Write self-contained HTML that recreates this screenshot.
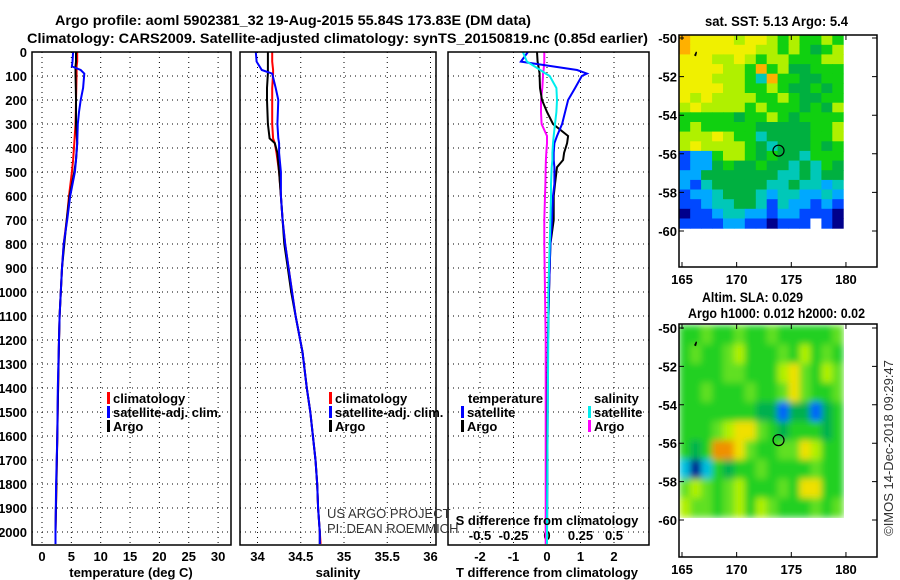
<!DOCTYPE html>
<html><head><meta charset="utf-8"><style>
html,body{margin:0;padding:0;background:#fff;}
svg{display:block;font-family:"Liberation Sans",sans-serif;}
.t{font-size:14px;font-weight:bold;fill:#000;}
.tk{font-size:13px;font-weight:bold;fill:#000;}
.thin{font-size:13px;fill:#333;}
</style></head><body>
<svg id="fig" width="900" height="580" viewBox="0 0 900 580" xmlns="http://www.w3.org/2000/svg">
<defs>
<clipPath id="clipTop"><rect x="679" y="35" width="167" height="196"/></clipPath>
<clipPath id="clipBot"><rect x="679" y="324" width="167" height="196"/></clipPath>
<filter id="blur" x="0" y="0" width="100%" height="100%"><feGaussianBlur stdDeviation="3.5" edgeMode="duplicate"/></filter>
</defs>
<text class="t" x="55" y="25" textLength="476" lengthAdjust="spacingAndGlyphs">Argo profile: aoml 5902381_32 19-Aug-2015 55.84S 173.83E (DM data)</text>
<text class="t" x="27" y="43" textLength="621" lengthAdjust="spacingAndGlyphs">Climatology: CARS2009. Satellite-adjusted climatology: synTS_20150819.nc (0.85d earlier)</text>
<text class="t" x="705" y="26" textLength="143" lengthAdjust="spacingAndGlyphs">sat. SST: 5.13 Argo: 5.4</text>
<text class="t" x="702" y="302" textLength="101" lengthAdjust="spacingAndGlyphs">Altim. SLA: 0.029</text>
<text class="t" x="688" y="318" textLength="177" lengthAdjust="spacingAndGlyphs">Argo h1000: 0.012 h2000: 0.02</text>
<g id="g"></g>
</svg>
<script>
// ---- profile data ----
const depthTicks=[0,100,200,300,400,500,600,700,800,900,1000,1100,1200,1300,1400,1500,1600,1700,1800,1900,2000];
const tempTicks=[0,5,10,15,20,25,30];
const salTicks=[34,34.5,35,35.5,36];
const salTickLabels=["34","34.5","35","35.5","36"];
const dTTicks=[-2,-1,0,1,2];
const dSTicks=[-0.5,-0.25,0,0.25,0.5];
const dSTickLabels=["-0.5","-0.25","0","0.25","0.5"];

const tDepth=[0,40,60,75,90,150,200,250,300,380,450,500,600,700,800,900,1000,1100,1200,1400,1600,1800,2000,2050];
const tClim=[6.0,6.0,5.9,5.9,5.9,5.85,5.8,5.75,5.7,5.5,5.3,5.1,4.6,4.2,3.7,3.4,3.2,3.0,2.9,2.75,2.6,2.45,2.3,2.3];
const tSat=[5.3,5.2,5.1,6.6,7.2,7.0,6.6,6.3,6.1,6.0,5.8,5.6,4.8,4.3,3.7,3.4,3.2,3.0,2.9,2.7,2.6,2.4,2.3,2.3];
const tArgo=[5.8,5.8,5.7,5.7,5.7,5.75,5.8,5.8,5.8,6.0,5.8,5.5,4.7,4.2,3.8,3.4,3.2,3.0,2.9,2.75,2.6,2.45,2.3,2.3];

const sDepth=[0,40,75,90,150,200,300,360,380,420,500,600,700,800,900,1000,1100,1250,1400,1500,1600,1700,1800,1900,2000,2050];
const sClim=[34.17,34.17,34.18,34.18,34.17,34.17,34.17,34.18,34.20,34.22,34.25,34.27,34.29,34.32,34.36,34.40,34.44,34.52,34.57,34.61,34.64,34.67,34.69,34.70,34.72,34.73];
const sSat=[33.98,33.99,34.05,34.17,34.21,34.24,34.23,34.24,34.25,34.25,34.27,34.27,34.29,34.32,34.36,34.40,34.44,34.52,34.57,34.61,34.64,34.67,34.69,34.70,34.72,34.72];
const sArgo=[34.12,34.12,34.12,34.12,34.11,34.11,34.12,34.14,34.20,34.23,34.25,34.27,34.29,34.31,34.35,34.39,34.44,34.52,34.57,34.61,34.64,34.67,34.69,34.70,34.72,34.72];

const dDepth=[0,40,75,90,100,150,200,250,300,350,380,420,450,480,550,600,700,800,1000,1200,1500,2000,2050];
const dTSat=[-0.57,-0.78,0.9,1.19,1.04,0.84,0.63,0.54,0.45,0.3,0.22,0.2,0.2,0.22,0.22,0.18,0.15,0.1,0.06,0.03,0.02,0.0,0.0];
const dTArgo=[-0.3,-0.28,-0.24,-0.22,-0.22,-0.21,-0.15,0.0,0.18,0.63,0.6,0.51,0.48,0.3,0.24,0.2,0.2,0.1,0.06,0.03,0.01,0.0,0.0];
const dSSat=[-0.18,-0.15,-0.05,-0.01,0.02,0.07,0.075,0.07,0.06,0.05,0.045,0.04,0.04,0.035,0.03,0.03,0.025,0.02,0.01,0.01,0.005,0.0,0.0];
const dSArgo=[-0.02,-0.02,-0.025,-0.03,-0.03,-0.035,-0.045,-0.045,-0.04,0.0,0.0,-0.005,-0.008,-0.01,-0.012,-0.015,-0.02,-0.02,-0.015,-0.01,-0.01,-0.01,-0.01];

// ---- map data (color class indices) ----
const sstGrid=[
[8,7,7,7,7,6,7,7,6,5,6,5,5,6,5],
[8,7,7,7,7,7,7,6,6,5,6,5,4,5,6],
[7,7,7,6,6,7,6,5,6,6,5,5,5,6,6],
[7,7,7,7,6,6,5,8,5,6,4,4,5,5,5],
[7,7,7,6,6,6,5,3,8,5,5,4,4,5,5],
[7,7,7,7,6,6,5,5,6,5,4,4,5,4,5],
[7,6,7,6,6,6,6,5,5,6,5,4,4,5,5],
[6,7,6,6,6,6,5,6,5,5,5,4,5,4,6],
[5,5,5,5,5,4,5,5,6,5,4,5,5,5,5],
[5,6,5,5,5,5,5,4,4,4,4,4,5,5,6],
[6,6,6,7,6,5,5,3,4,4,4,4,5,5,6],
[6,7,6,6,6,6,5,4,3,4,4,4,5,4,5],
[1,2,2,5,6,6,5,4,5,4,4,3,5,5,5],
[1,2,2,4,5,4,4,5,4,4,3,4,3,5,4],
[2,2,4,4,4,4,4,4,4,3,3,4,3,4,4],
[2,1,3,4,4,4,4,4,3,3,4,3,3,2,3],
[1,2,2,3,4,4,4,3,2,3,3,2,2,3,2],
[1,1,2,3,3,4,4,3,1,3,2,2,1,2,1],
[0,1,1,2,3,3,2,2,1,2,2,1,1,1,0],
[1,1,1,1,2,2,1,1,0,1,1,1,-1,1,0]];
const sstColors=["#00008c","#0048ff","#00a8ff","#00c8b8","#00b040","#10d010","#b0f000","#f0f000","#ffb000"];
const slaGrid=[
[4,4,5,4,4,5,4,4,5,4,4,4,4,4,5],
[4,5,4,4,5,6,4,4,4,5,4,6,4,5,4],
[4,4,4,4,5,5,4,4,4,6,7,5,4,6,5],
[4,4,5,4,4,4,5,4,4,5,7,5,4,4,5],
[4,4,4,4,4,4,4,3,3,1,3,3,1,3,4],
[4,4,4,5,6,7,7,5,4,3,4,4,4,3,4],
[4,3,4,8,8,7,5,4,4,5,5,7,6,4,4],
[2,0,2,4,3,4,4,5,4,4,4,4,5,4,4],
[5,6,5,4,5,6,4,4,4,5,4,7,7,4,4],
[6,5,5,4,5,6,4,6,5,4,4,4,5,4,5]];
const slaColors=["#000090","#0060ff","#00c0e0","#00b050","#20d020","#60e020","#b0f000","#f0e000","#f09000"];
const argoLon=173.83, argoLat=-55.84;
const mapLatTicks=[-50,-52,-54,-56,-58,-60];
const mapLonTicks=[165,170,175,180];

// ---- scales ----
const yD=d=>52+d*0.24;
const xT=t=>42+t*5.87;
const xS=s=>257.5+(s-34)*86.5;
const xDT=v=>547+v*33.5;
const xDS=v=>547+v*134;
const lonX=l=>682+(l-165)*10.93;
const latYTop=l=>38+(-50-l)*19.3;
const latYBot=l=>328+(-50-l)*19.2;

const NS="http://www.w3.org/2000/svg";
const G=document.getElementById('g');
function el(tag,attrs){const e=document.createElementNS(NS,tag);for(const k in attrs)e.setAttribute(k,attrs[k]);G.appendChild(e);return e;}
function txt(x,y,s,cls,anchor){const e=el('text',{x:x,y:y,'class':cls,'text-anchor':anchor||'start'});e.textContent=s;return e;}

const panels=[{x0:32,x1:231,name:'temperature'},{x0:240,x1:436,name:'salinity'},{x0:448,x1:649,name:'difference'}];
const top0=52, bot=545;
panels.forEach(p=>{
  depthTicks.forEach(d=>{
    const l=el('line',{x1:p.x0,x2:p.x1,y1:yD(d),y2:yD(d),stroke:'#000','stroke-width':1,'stroke-dasharray':'1 4'});
    
    
  });
});
tempTicks.forEach(t=>{const l=el('line',{x1:xT(t),x2:xT(t),y1:top0,y2:bot,stroke:'#000','stroke-dasharray':'1 4'});
  
  
  const s=txt(xT(t),561,String(t),'tk','middle');
  
  });
salTicks.forEach((t,i)=>{const l=el('line',{x1:xS(t),x2:xS(t),y1:top0,y2:bot,stroke:'#000','stroke-dasharray':'1 4'});
  
  
  const s=txt(xS(t),561,salTickLabels[i],'tk','middle');
  
  });
dTTicks.forEach(t=>{const l=el('line',{x1:xDT(t),x2:xDT(t),y1:top0,y2:bot,stroke:'#000','stroke-dasharray':'1 4'});
  
  
  const s=txt(xDT(t),561,String(t),'tk','middle');
  
  });
dSTicks.forEach((t,i)=>{const s=txt(xDS(t),540,dSTickLabels[i],'tk','middle');
  
  });
depthTicks.forEach(d=>{const s=txt(27,yD(d)+5,String(d),'tk','end');
  
  });

function series(xs,ds,fx,color,name,w){
  const pts=xs.map((v,i)=>fx(v).toFixed(1)+','+yD(ds[i]).toFixed(1)).join(' ');
  const p=el('polyline',{points:pts,fill:'none',stroke:color,'stroke-width':w||2,'stroke-linejoin':'miter'});
  
  
}
series(tClim,tDepth,xT,'#f00','temperature-climatology-line');
series(tArgo,tDepth,xT,'#000','temperature-argo-line');
series(tSat,tDepth,xT,'#00f','temperature-satellite-line');
series(sClim,sDepth,xS,'#f00','salinity-climatology-line');
series(sArgo,sDepth,xS,'#000','salinity-argo-line');
series(sSat,sDepth,xS,'#00f','salinity-satellite-line');
series(dSArgo,dDepth,xDS,'#f0f','s-diff-argo-line');
series(dTArgo,dDepth,xDT,'#000','t-diff-argo-line');
series(dTSat,dDepth,xDT,'#00f','t-diff-satellite-line');
series(dSSat,dDepth,xDS,'#0ee','s-diff-satellite-line');

panels.forEach(p=>{const r=el('rect',{x:p.x0,y:top0,width:p.x1-p.x0,height:bot-top0,fill:'none',stroke:'#000','stroke-width':1.5});
  
  });

[[131,577,'temperature (deg C)','temperature-axis-title'],[338,577,'salinity','salinity-axis-title'],[547,577,'T difference from climatology','t-diff-axis-title'],[547,525,'S difference from climatology','s-diff-axis-title']].forEach(a=>{
  const s=txt(a[0],a[1],a[2],'tk','middle');
  
  });

function legend(x,y,color,label,name){
  const b=el('rect',{x:x,y:y-11,width:3,height:12,fill:color});
  
  
  const s=txt(x+6,y,label,'tk');
  
  
}
legend(107,403,'#f00','climatology','temp-legend-climatology');
legend(107,417,'#00f','satellite-adj. clim.','temp-legend-satellite');
legend(107,431,'#000','Argo','temp-legend-argo');
legend(329,403,'#f00','climatology','sal-legend-climatology');
legend(329,417,'#00f','satellite-adj. clim.','sal-legend-satellite');
legend(329,431,'#000','Argo','sal-legend-argo');
{const s=txt(468,403,'temperature','tk');}
{const s=txt(594,403,'salinity','tk');}
legend(461,417,'#00f','satellite','diff-legend-t-satellite');
legend(461,431,'#000','Argo','diff-legend-t-argo');
legend(588,417,'#0ee','satellite','diff-legend-s-satellite');
legend(588,431,'#f0f','Argo','diff-legend-s-argo');
{const s=txt(327,518,'US ARGO PROJECT','thin');}
{const s=txt(327,533,'PI: DEAN ROEMMICH','thin');}

function drawMap(grid,colors,latY,clip,blur,name,boxTop,boxBot){
  const grp=document.createElementNS(NS,'g');
  grp.setAttribute('clip-path','url(#'+clip+')');
  G.appendChild(grp);
  const inner=document.createElementNS(NS,'g');
  if(blur)inner.setAttribute('filter','url(#blur)');
  grp.appendChild(inner);
  const rows=grid.length, step=10/rows;
  grid.forEach((row,r)=>row.forEach((v,c)=>{
    const la0=-49.85-r*step;
    const x=lonX(164.75+c), y=latY(la0);
    const w=lonX(165.75+c)-x+0.5, h=latY(la0-step)-y+0.5;
    const e=document.createElementNS(NS,'rect');
    e.setAttribute('x',x.toFixed(1));e.setAttribute('y',y.toFixed(1));
    e.setAttribute('width',w.toFixed(1));e.setAttribute('height',h.toFixed(1));
    e.setAttribute('fill',v<0?'#fff':colors[v]);
    
    
    inner.appendChild(e);
  }));
  const c=el('circle',{cx:lonX(argoLon),cy:latY(argoLat),r:5.5,fill:'none',stroke:'#000','stroke-width':1.2});
  
  
  const island=el('path',{d:'M'+lonX(166.1)+' '+latY(-50.9)+' l2 -4 l1 1 l-1 4 z',fill:'#000'});
  
  
  const fr=el('rect',{x:679,y:boxTop,width:198,height:boxBot-boxTop,fill:'none',stroke:'#000','stroke-width':1.5});
  
  
  mapLatTicks.forEach(l=>{
    const y=latY(l);
    const tk=el('path',{d:'M679 '+y+' h5 M877 '+y+' h-5',stroke:'#000'});
    
    
    const s=txt(677,y+5,String(l),'tk','end');
    
    
  });
  mapLonTicks.forEach(l=>{
    const x=lonX(l);
    const tk=el('path',{d:'M'+x+' '+boxTop+' v5 M'+x+' '+boxBot+' v-5',stroke:'#000'});
    
    
    const s=txt(x,boxBot+17,String(l),'tk','middle');
    
    
  });
}
drawMap(sstGrid,sstColors,latYTop,'clipTop',false,'sst-map',35,267);
drawMap(slaGrid,slaColors,latYBot,'clipBot',true,'sla-map',324,557);
{const s=txt(0,0,'©IMOS 14-Dec-2018 09:29:47','thin','middle');
 s.setAttribute('transform','translate(893,448) rotate(-90)');
 
 }
</script>
</body></html>
